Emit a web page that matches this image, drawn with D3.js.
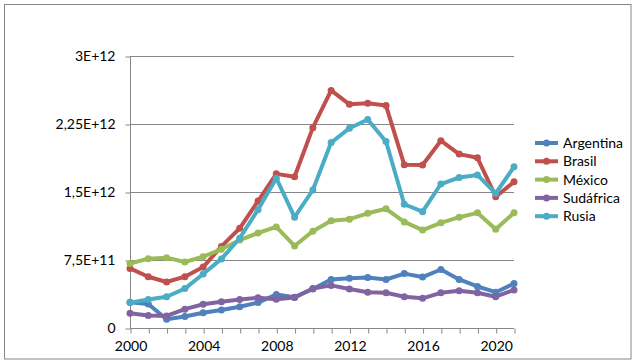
<!DOCTYPE html>
<html><head><meta charset="utf-8">
<script src="https://cdn.jsdelivr.net/npm/d3@7"></script>
<style>body{margin:0;background:#fff}svg{display:block}text{font-family:Lato,"Liberation Sans",sans-serif;fill:#000}</style>
</head><body>
<script>
const years = d3.range(2000, 2022);
const seriesNames = ["Argentina","Brasil","México","Sudáfrica","Rusia"];
const colors = ["#4F81BD","#C0504D","#9BBB59","#8064A2","#4BACC6"];
const argentina = [2.84e11,2.65e11,0.97e11,1.27e11,1.68e11,1.99e11,2.34e11,2.80e11,3.70e11,3.40e11,4.30e11,5.35e11,5.48e11,5.57e11,5.35e11,6.00e11,5.62e11,6.45e11,5.35e11,4.58e11,3.95e11,4.90e11];
const brasil = [6.57e11,5.65e11,5.07e11,5.66e11,6.72e11,9.00e11,1.100e12,1.400e12,1.700e12,1.668e12,2.210e12,2.620e12,2.467e12,2.478e12,2.453e12,1.800e12,1.798e12,2.066e12,1.918e12,1.877e12,1.448e12,1.612e12];
const mexico = [7.12e11,7.65e11,7.76e11,7.28e11,7.87e11,8.68e11,9.70e11,1.048e12,1.115e12,9.05e11,1.068e12,1.183e12,1.200e12,1.265e12,1.315e12,1.170e12,1.080e12,1.160e12,1.222e12,1.270e12,1.090e12,1.270e12];
const sudafrica = [1.62e11,1.38e11,1.33e11,2.08e11,2.62e11,2.90e11,3.15e11,3.34e11,3.18e11,3.36e11,4.35e11,4.70e11,4.30e11,3.95e11,3.88e11,3.45e11,3.27e11,3.88e11,4.10e11,3.89e11,3.45e11,4.20e11];
const rusia = [2.80e11,3.15e11,3.45e11,4.35e11,5.95e11,7.62e11,9.90e11,1.305e12,1.652e12,1.222e12,1.522e12,2.045e12,2.203e12,2.300e12,2.057e12,1.365e12,1.283e12,1.588e12,1.660e12,1.688e12,1.485e12,1.778e12];
const yTicks = [0, 7.5e11, 1.5e12, 2.25e12, 3e12];
const yTickLabels = ["0","7,5E+11","1,5E+12","2,25E+12","3E+12"];
const xTickYears = [2000,2004,2008,2012,2016,2020];

const allSeries = [argentina, brasil, mexico, sudafrica, rusia];
const W = 636, H = 364;
const svg = d3.select("body").append("svg").attr("width", W).attr("height", H);
svg.append("rect").attr("x",4.5).attr("y",4.5).attr("width",626.5).attr("height",354.5)
  .attr("fill","#fff").attr("stroke","#868686").attr("stroke-width",1);

const x = d3.scaleLinear().domain([2000, 2021]).range([130, 514]);
const y = d3.scaleLinear().domain([0, 3e12]).range([328, 56]);

// gridlines
svg.append("g").selectAll("line").data(yTicks.slice(1)).join("line")
  .attr("x1",130).attr("x2",514).attr("y1",d=>Math.round(y(d))+0.5).attr("y2",d=>Math.round(y(d))+0.5)
  .attr("stroke","#868686").attr("stroke-width",1);

// y axis
const yAxis = d3.axisLeft(y).tickValues(yTicks).tickSize(5).tickPadding(10)
  .tickFormat((d,i)=>yTickLabels[i]);
const gy = svg.append("g").attr("transform","translate(130.5,0.5)").call(yAxis);
gy.select(".domain").attr("stroke","#868686").attr("d","M0,"+(y(3e12)-0.5)+"V"+(y(0)-0.5));
gy.selectAll(".tick line").attr("stroke","#868686");
gy.selectAll(".tick text").attr("font-size","14px").attr("font-family","Lato, 'Liberation Sans', sans-serif");

// x axis
const xAxis = d3.axisBottom(x).tickValues(years).tickSize(5).tickPadding(8)
  .tickFormat(d => xTickYears.includes(d) ? String(d) : "");
const gx = svg.append("g").attr("transform","translate(0.5,"+(y(0)+0.5)+")").call(xAxis);
gx.select(".domain").attr("stroke","#868686").attr("d","M"+(x(2000)-0.5)+",0H"+(x(2021)-0.5));
gx.selectAll(".tick line").attr("stroke","#868686");
gx.selectAll(".tick text").attr("font-size","14px").attr("font-family","Lato, 'Liberation Sans', sans-serif");

// lines
const line = d3.line().x((d,i)=>x(years[i])).y(d=>y(d));
allSeries.forEach((s, k) => {
  const g = svg.append("g");
  g.append("path").datum(s).attr("d", line).attr("fill","none")
    .attr("stroke", colors[k]).attr("stroke-width",4).attr("stroke-linejoin","round");
  g.selectAll("circle").data(s).join("circle")
    .attr("cx",(d,i)=>x(years[i])).attr("cy",d=>y(d)).attr("r",3.5).attr("fill",colors[k]);
});

// legend
const leg = svg.append("g");
seriesNames.forEach((n, k) => {
  const ly = 143 + k*18.3;
  leg.append("line").attr("x1",535).attr("x2",558).attr("y1",ly).attr("y2",ly)
    .attr("stroke",colors[k]).attr("stroke-width",4);
  leg.append("circle").attr("cx",546.5).attr("cy",ly).attr("r",3.5).attr("fill",colors[k]);
  leg.append("text").attr("x",563).attr("y",ly).attr("dy","0.35em").attr("font-size","14px").text(n);
});
</script>
</body></html>
